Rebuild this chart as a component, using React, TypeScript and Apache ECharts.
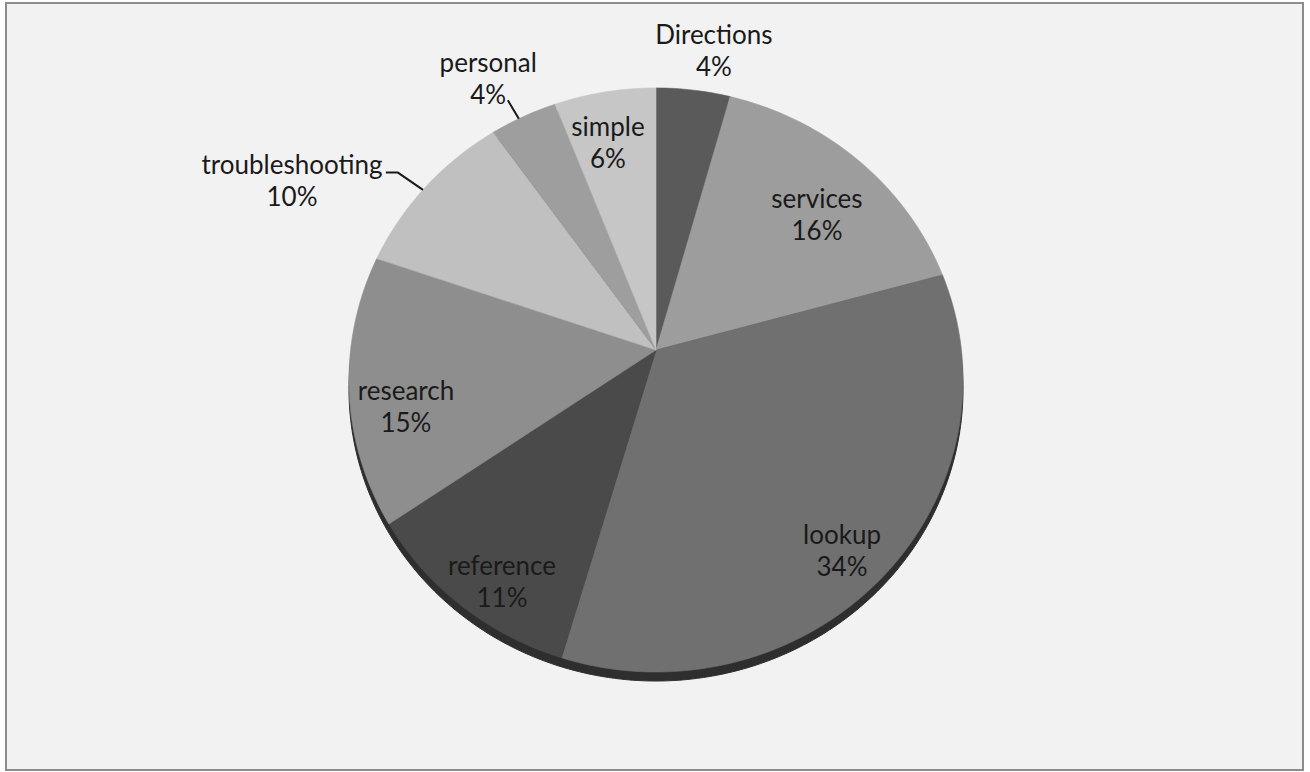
import React, { useEffect, useRef } from "react";
import * as echarts from "echarts";

// ---- data ----
const categories = ["Directions", "services", "lookup", "reference", "research", "troubleshooting", "personal", "simple"];
const values = [4.3, 16.4, 33.8, 10.9, 14.9, 9.9, 3.9, 5.9];
const sliceColors = ["#5a5a5a", "#9d9d9d", "#707070", "#4a4a4a", "#8e8e8e", "#c0c0c0", "#9e9e9e", "#c6c6c6"];

// ---- layout (not data): slightly tilted pie seen in perspective ----
const PIE = { cx: 656, cy: 350, A: 305.4, B: 253, K: -0.1027 };
const SHADOW_DY = 9;
const labelRadius = [1.182, 0.743, 0.861, 0.874, 0.825, 1.415, 1.207, 0.796];
const labelAngleShift = [2.6, 3.2, 3.3, -3.6, -5.6, -10.6, -2.0, -1.7];
const leaderAngle: Record<number, number> = { 5: 306, 6: 330.7 };
const leaderOuter: Record<number, number> = { 5: 1.115, 6: 1.088 };
const leaderTail: Record<number, number> = { 5: -12, 6: 0 };

const total = values.reduce((a, b) => a + b, 0);
const starts: number[] = [];
{
  let acc = 0;
  values.forEach((v) => {
    starts.push((acc / total) * 360);
    acc += v;
  });
}

function proj(deg: number, r: number, dy = 0): number[] {
  const t = (deg * Math.PI) / 180;
  const u = r * Math.sin(t);
  const v = -r * Math.cos(t);
  const w = 1 + PIE.K * v;
  return [PIE.cx + (PIE.A * u) / w, (PIE.B * v + PIE.cy) / w + dy];
}

export default function App() {
  const ref = useRef<HTMLDivElement>(null);
  useEffect(() => {
    if (!ref.current) return;
    const chart = echarts.init(ref.current, null, { renderer: "svg" });
    const option: any = {
      animation: false,
      backgroundColor: "#ffffff",
      graphic: [
        {
          type: "rect",
          z: -10,
          shape: { x: 6, y: 3, width: 1297, height: 767 },
          style: { fill: "#f2f2f2", stroke: "#8c8c8c", lineWidth: 2 },
        },
      ],
      series: [
        {
          type: "custom",
          coordinateSystem: "none",
          z: 1,
          silent: true,
          data: [0],
          renderItem: () => {
            const pts: number[][] = [];
            for (let a = 0; a <= 360; a += 1) pts.push(proj(a, 1, SHADOW_DY));
            return {
              type: "polygon",
              shape: { points: pts },
              style: { fill: "#2e2e2e", stroke: "#2e2e2e", lineWidth: 1 },
            };
          },
        },
        {
          type: "custom",
          coordinateSystem: "none",
          z: 2,
          data: values,
          renderItem: (params: any, api: any) => {
            const i = params.dataIndex;
            const v = api.value(0);
            const a0 = starts[i];
            const a1 = a0 + (v / total) * 360;
            const pts: number[][] = [proj(0, 0)];
            const n = Math.max(2, Math.ceil(a1 - a0));
            for (let k = 0; k <= n; k++) pts.push(proj(a0 + ((a1 - a0) * k) / n, 1));
            const mid = (a0 + a1) / 2 + labelAngleShift[i];
            const lp = proj(mid, labelRadius[i]);
            const pct = Math.round((v / total) * 100) + "%";
            const children: any[] = [
              {
                type: "polygon",
                shape: { points: pts },
                style: { fill: sliceColors[i], stroke: sliceColors[i], lineWidth: 0.6 },
              },
              {
                type: "text",
                x: lp[0],
                y: lp[1],
                z2: 10,
                style: {
                  text: categories[i] + "\n" + pct,
                  fill: "#1a1a1a",
                  fontSize: 26,
                  fontFamily: "Lato, 'Open Sans', sans-serif",
                  lineHeight: 32,
                  align: "center",
                  verticalAlign: "middle",
                },
              },
            ];
            if (leaderAngle[i] !== undefined) {
              const p0 = proj(leaderAngle[i], 1.0);
              const p1 = proj(leaderAngle[i], leaderOuter[i]);
              const line: number[][] = [p0, p1];
              if (leaderTail[i]) line.push([p1[0] + leaderTail[i], p1[1]]);
              children.push({
                type: "polyline",
                z2: 10,
                shape: { points: line },
                style: { stroke: "#1a1a1a", lineWidth: 2, fill: "none" },
              });
            }
            return { type: "group", children };
          },
        },
      ],
    };
    chart.setOption(option);
    return () => chart.dispose();
  }, []);
  return (
    <div
      ref={ref}
      style={{ position: "fixed", left: 0, top: 0, width: 1310, height: 772 }}
    />
  );
}
